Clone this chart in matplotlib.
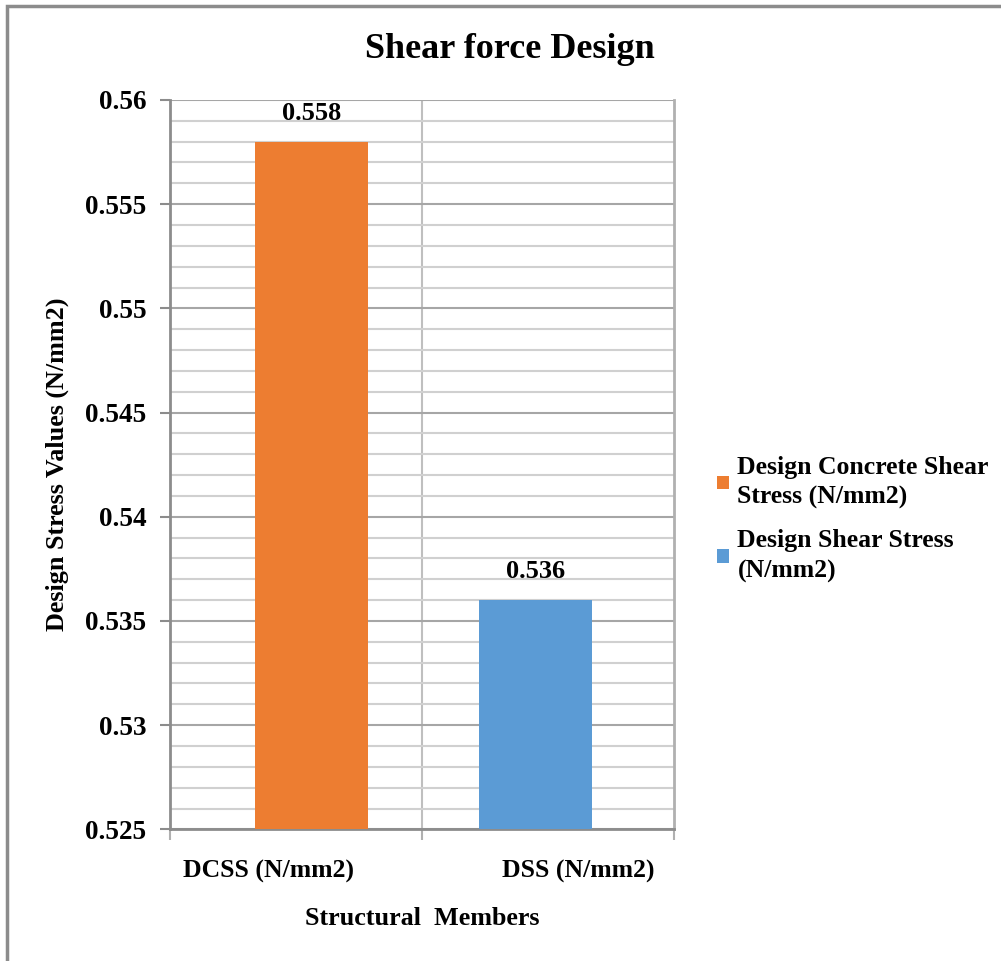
import matplotlib.pyplot as plt
from matplotlib.patches import Rectangle
from matplotlib.ticker import MultipleLocator
import matplotlib.transforms as mtransforms

plt.rcParams['font.family'] = ['Liberation Serif', 'DejaVu Serif']
plt.rcParams['font.weight'] = 'bold'

# Data
categories = ['DCSS (N/mm2)', 'DSS (N/mm2)']
series_names = ['Design Concrete Shear\nStress (N/mm2)', 'Design Shear Stress\n(N/mm2)']
values = [0.558, 0.536]
colors = ['#ED7D31', '#5B9BD5']
bar_offsets = [0.06, -0.05]

fig = plt.figure(figsize=(10.01, 9.61), dpi=100)
ax = fig.add_axes([0.170, 0.137, 0.503, 0.759])

# Outer chart frame (only left/top edges are visible)
fig.patches.append(Rectangle((7 / 1001, -0.1), 1.2, 1 - 6 / 961 + 0.1,
                             transform=fig.transFigure, fill=False,
                             edgecolor='#8c8c8c', linewidth=2.5, zorder=0))

for i, (v, c, off, name) in enumerate(zip(values, colors, bar_offsets, series_names)):
    ax.bar(i + off, v - 0.525, bottom=0.525, width=0.45, color=c,
           label=name, zorder=3)
    ax.text(i + off, v + 0.0008, f'{v:.3f}', ha='center', va='bottom',
            fontsize=19, fontweight='bold', zorder=4)

ax.set_ylim(0.525, 0.56)
ax.set_xlim(-0.5, 1.5)
ax.yaxis.set_major_locator(MultipleLocator(0.005))
ax.yaxis.set_minor_locator(MultipleLocator(0.001))
ax.set_yticklabels([f'{t:g}' for t in ax.get_yticks()])
ax.grid(which='major', axis='y', color='#a6a6a6', linewidth=1.5, zorder=1)
ax.grid(which='minor', axis='y', color='#d0d0d0', linewidth=1.5, zorder=1)
ax.tick_params(axis='y', which='minor', length=0)
ax.tick_params(axis='y', which='major', length=7, width=1.5, color='#8c8c8c',
               labelsize=19.5, pad=10)

# Category boundaries on the x axis
ax.set_xticks([-0.5, 0.5, 1.5], minor=True)
ax.axvline(0.5, color='#bfbfbf', linewidth=1.5, zorder=1)
ax.set_xticks([0, 1])
ax.set_xticklabels(categories)
ax.tick_params(axis='x', which='major', length=0, labelsize=18.5, pad=22)
ax.tick_params(axis='x', which='minor', length=8, width=1.5, color='#b0b0b0')
shifts = [-28, 30]
for lab, dx in zip(ax.get_xticklabels(), shifts):
    lab.set_transform(lab.get_transform() +
                      mtransforms.ScaledTranslation(dx / 100, 0, fig.dpi_scale_trans))

for side in ['left', 'right', 'bottom']:
    ax.spines[side].set_color('#8c8c8c')
    ax.spines[side].set_linewidth(2)
ax.spines['top'].set_visible(False)
ax.spines['right'].set_color('#b0b0b0')

fig.text(510 / 1001, 1 - 50 / 961, 'Shear force Design', fontsize=26,
         fontweight='bold', ha='center', va='center')
ax.set_xlabel('Structural  Members', fontsize=18.8, fontweight='bold', labelpad=17)
ax.set_ylabel('Design Stress Values (N/mm2)', fontsize=18.8, fontweight='bold', labelpad=12)

leg = ax.legend(loc='center left', bbox_to_anchor=(1.04, 0.425), frameon=False,
                handlelength=0.45, handleheight=0.45, handletextpad=0.35,
                labelspacing=0.78, prop={'weight': 'bold', 'size': 18.5})
for t in leg.get_texts():
    t.set_linespacing(1.38)

fig.savefig('out.png', dpi=100)
